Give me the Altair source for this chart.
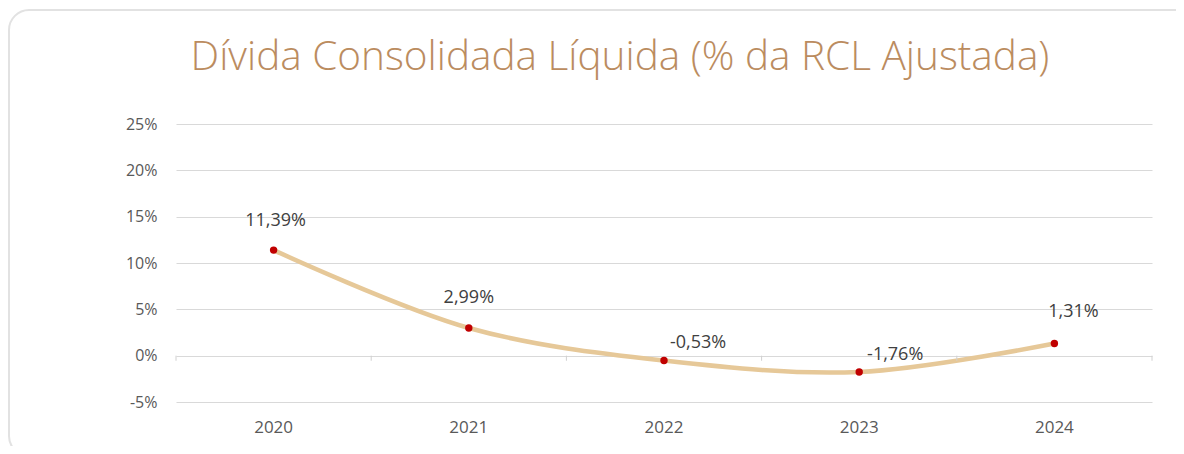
import altair as alt
import pandas as pd

years = ["2020", "2021", "2022", "2023", "2024"]
values = [11.39, 2.99, -0.53, -1.76, 1.31]
labels = ["11,39%", "2,99%", "-0,53%", "-1,76%", "1,31%"]
y_ticks = [-5, 0, 5, 10, 15, 20, 25]
title_text = "Dívida Consolidada Líquida (% da RCL Ajustada)"

df = pd.DataFrame({"ano": years, "valor": values, "rotulo": labels})

W, H = 976, 278
FONT = "Open Sans"

xscale = alt.Scale(type="band", domain=years, paddingInner=0, paddingOuter=0)
yscale = alt.Scale(domain=[-5, 25], nice=False, zero=False)

x_axis = alt.Axis(title=None, ticks=False, domain=False, grid=False, labelAngle=0,
                  labelFontSize=17, labelColor="#595959", labelPadding=17, labelFont=FONT)
y_axis = alt.Axis(values=y_ticks, title=None, ticks=False, domain=False,
                  labelExpr="datum.value + '%'", gridColor="#d9d9d9", gridWidth=1,
                  labelFontSize=16, labelColor="#595959", labelPadding=19, labelFont=FONT)

base = alt.Chart(df)
one = alt.Chart(pd.DataFrame({"t": [title_text]}))

card = one.mark_rect(
    filled=False, stroke="#e2e2e2", strokeWidth=2, cornerRadius=20
).encode(x=alt.value(-167), x2=alt.value(W + 50), y=alt.value(-114), y2=alt.value(H + 54))

title = one.mark_text(fontSize=40.5, font=FONT, fontWeight=300, color="#bb8c5f",
                      align="center", baseline="middle").encode(
    x=alt.value(W / 2 - 44), y=alt.value(-66), text="t:N"
)

line = base.mark_line(color="#e6c898", strokeWidth=4.5, interpolate="catmull-rom").encode(
    x=alt.X("ano:O", scale=xscale, axis=x_axis),
    y=alt.Y("valor:Q", scale=yscale, axis=y_axis),
)

ticks = base.mark_rule(color="#d0d0d0", strokeWidth=1).encode(
    x=alt.X("ano:O", bandPosition=0),
    y=alt.datum(0),
    y2=alt.datum(-0.55),
)
tick_end = base.transform_filter(alt.datum.ano == "2024").mark_rule(color="#d0d0d0", strokeWidth=1).encode(
    x=alt.X("ano:O", bandPosition=1),
    y=alt.datum(0),
    y2=alt.datum(-0.55),
)

points = base.mark_point(filled=True, color="#c00000", size=55, opacity=1).encode(
    x="ano:O", y="valor:Q"
)

def label_layer(year, dx, dy):
    return base.transform_filter(alt.datum.ano == year).mark_text(
        dx=dx, dy=dy, fontSize=18, color="#404040", font=FONT
    ).encode(x="ano:O", y="valor:Q", text="rotulo:N")

text_layers = [
    label_layer("2020", 2, -29),
    label_layer("2021", 0, -30),
    label_layer("2022", 34, -18),
    label_layer("2023", 36, -17),
    label_layer("2024", 19, -32),
]

chart = alt.layer(card, title, line, ticks, tick_end, points, *text_layers).properties(
    width=W, height=H,
    background="white",
    autosize=alt.AutoSizeParams(type="none"),
    padding={"left": 168, "top": 116, "right": 24, "bottom": 44},
).configure_view(strokeWidth=0, stroke="transparent")

chart.save("out.html", embed_options={"renderer": "svg", "actions": False})
